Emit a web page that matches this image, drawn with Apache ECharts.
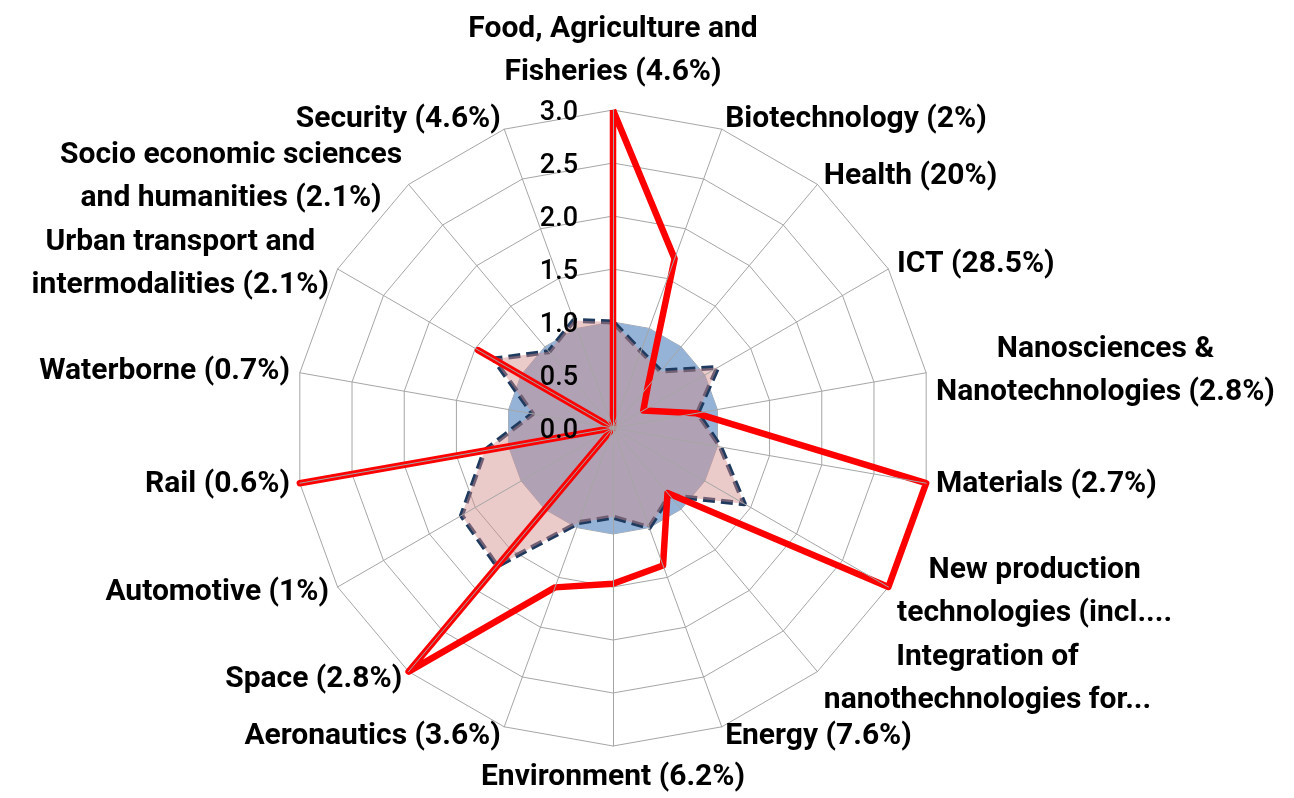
<!DOCTYPE html>
<html>
<head>
<meta charset="utf-8">
<script src="https://cdn.jsdelivr.net/npm/echarts@6/dist/echarts.min.js"></script>
<style>
html, body { margin: 0; padding: 0; background: #ffffff; }
#chart { width: 1294px; height: 798px; }
</style>
</head>
<body>
<div id="chart"></div>
<script>
// ---- data (clockwise from top) ----
const categories = [
  'Food, Agriculture and\nFisheries (4.6%)',
  'Biotechnology (2%)',
  'Health (20%)',
  'ICT (28.5%)',
  'Nanosciences &\nNanotechnologies (2.8%)',
  'Materials (2.7%)',
  'New production\ntechnologies (incl....',
  'Integration of\nnanothechnologies for...',
  'Energy (7.6%)',
  'Environment (6.2%)',
  'Aeronautics (3.6%)',
  'Space (2.8%)',
  'Automotive (1%)',
  'Rail (0.6%)',
  'Waterborne (0.7%)',
  'Urban transport and\nintermodalities (2.1%)',
  'Socio economic sciences\nand humanities (2.1%)',
  'Security (4.6%)'
];
const redSeries = [3.0, 1.70, 0.51, 0.33, 0.80, 3.0, 3.0, 0.80, 1.38, 1.47, 1.60, 3.0, 0, 3.0, 0, 1.47, 0, 0];
const dashedSeries = [1.0, 0.77, 0.70, 1.14, 0.81, 1.03, 1.43, 0.83, 1.0, 0.84, 0.95, 1.70, 1.65, 1.23, 0.77, 1.30, 0.94, 1.08];
const baselineSeries = [1, 1, 1, 1, 1, 1, 1, 1, 1, 1, 1, 1, 1, 1, 1, 1, 1, 1];
const tickLabels = ['0.0', '0.5', '1.0', '1.5', '2.0', '2.5', '3.0'];
const axisMin = 0, axisMax = 3.0, tickStep = 0.5;

// ECharts places radar indicators counter-clockwise; reorder to get a clockwise layout
const n = categories.length;
const order = categories.map((_, i) => (i === 0 ? 0 : n - i));
const reorder = arr => order.map(i => arr[i]);

const FONT = 'Roboto';
const gridColor = '#A6A6A6';

const nameIndicators = order.map(i => ({
  name: categories[i], min: axisMin, max: axisMax,
  nameGap: i === 0 ? 16 : 10
}));
const topIndicators = order.map((i, k) => {
  const ind = { name: categories[i], min: axisMin, max: axisMax };
  if (k === 0) {
    ind.axisLabel = {
      show: true, color: '#000', fontSize: 27, fontWeight: 500, fontFamily: FONT,
      formatter: v => '{t|' + tickLabels[Math.round((v - axisMin) / tickStep)] + '}{s|}',
      rich: {
        t: { color: '#000', fontSize: 27, fontWeight: 500, fontFamily: FONT, padding: [6, 0, 0, 0] },
        s: { width: 27 }
      }
    };
  }
  return ind;
});

const geom = { center: [613, 428], radius: 318, startAngle: 90, shape: 'polygon', splitNumber: 6 };

const chart = echarts.init(document.getElementById('chart'), null, { renderer: 'canvas' });
chart.setOption({
  backgroundColor: '#ffffff',
  animation: false,
  radar: [
    Object.assign({}, geom, {
      z: 0,
      indicator: nameIndicators,
      axisNameGap: 10,
      axisName: {
        show: true, color: '#000', fontSize: 30, fontWeight: 'bold', fontFamily: FONT, lineHeight: 43,
        formatter: name => name.split('\n').map(l => '{c|' + l + '}').join('\n'),
        rich: { c: { align: 'center', color: '#000', fontSize: 30, fontWeight: 'bold', fontFamily: FONT, lineHeight: 43 } }
      },
      splitLine: { show: true, lineStyle: { color: gridColor, width: 1 } },
      splitArea: { show: false },
      axisLine: { show: false },
      axisTick: { show: false },
      axisLabel: { show: false }
    }),
    Object.assign({}, geom, {
      z: 5,
      indicator: topIndicators,
      axisName: { show: false },
      splitLine: { show: false },
      splitArea: { show: false },
      axisLine: { show: true, lineStyle: { color: gridColor, width: 1 } },
      axisTick: { show: false },
      axisLabel: { show: false }
    })
  ],
  series: [
    {
      type: 'radar', radarIndex: 0, symbol: 'none', silent: true, z: 2,
      lineStyle: { width: 0, opacity: 0 },
      areaStyle: { color: '#95B3D7', opacity: 1 },
      data: [{ name: 'Reference', value: reorder(baselineSeries) }]
    },
    {
      type: 'radar', radarIndex: 0, symbol: 'none', silent: true, z: 3,
      itemStyle: { color: '#1F3A5F' },
      lineStyle: { color: '#1F3A5F', width: 5, type: [12, 6], opacity: 1 },
      areaStyle: { color: 'rgb(211,140,140)', opacity: 0.46 },
      data: [{ name: 'Share A', value: reorder(dashedSeries) }]
    },
    {
      type: 'radar', radarIndex: 0, symbol: 'none', silent: true, z: 4,
      itemStyle: { color: '#FF0000' },
      lineStyle: { color: '#FF0000', width: 6.5, join: 'round', opacity: 1 },
      data: [{ name: 'Share B', value: reorder(redSeries) }]
    }
  ]
});
</script>
</body>
</html>
